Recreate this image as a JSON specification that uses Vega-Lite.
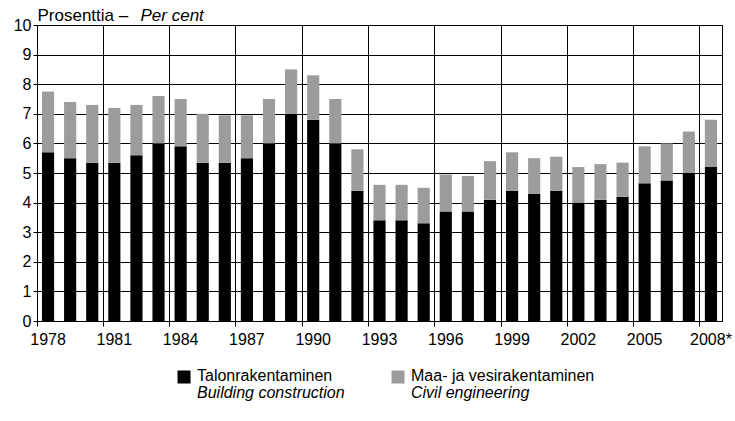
{
  "$schema": "https://vega.github.io/schema/vega-lite/v6.json",
  "padding": {"left": 12, "top": 5, "right": 0, "bottom": 5},
  "spacing": 16,
  "config": {
    "font": "Liberation Sans",
    "view": {"stroke": "#000", "strokeWidth": 1},
    "axis": {"labelColor": "#000", "titleColor": "#000", "domainColor": "#000", "tickColor": "#000", "gridColor": "#000", "gridOpacity": 1, "gridWidth": 1, "domainWidth": 1, "labelFontSize": 16}
  },
  "vconcat": [
    {
      "width": 685,
      "height": 296,
      "data": {"values": [
        {"year": "1978", "building": 5.7, "civil": 2.05},
        {"year": "1979", "building": 5.5, "civil": 1.9},
        {"year": "1980", "building": 5.35, "civil": 1.95},
        {"year": "1981", "building": 5.35, "civil": 1.85},
        {"year": "1982", "building": 5.6, "civil": 1.7},
        {"year": "1983", "building": 6.0, "civil": 1.6},
        {"year": "1984", "building": 5.9, "civil": 1.6},
        {"year": "1985", "building": 5.35, "civil": 1.65},
        {"year": "1986", "building": 5.35, "civil": 1.6},
        {"year": "1987", "building": 5.5, "civil": 1.45},
        {"year": "1988", "building": 6.0, "civil": 1.5},
        {"year": "1989", "building": 7.0, "civil": 1.5},
        {"year": "1990", "building": 6.8, "civil": 1.5},
        {"year": "1991", "building": 6.0, "civil": 1.5},
        {"year": "1992", "building": 4.4, "civil": 1.4},
        {"year": "1993", "building": 3.4, "civil": 1.2},
        {"year": "1994", "building": 3.4, "civil": 1.2},
        {"year": "1995", "building": 3.3, "civil": 1.2},
        {"year": "1996", "building": 3.7, "civil": 1.25},
        {"year": "1997", "building": 3.7, "civil": 1.2},
        {"year": "1998", "building": 4.1, "civil": 1.3},
        {"year": "1999", "building": 4.4, "civil": 1.3},
        {"year": "2000", "building": 4.3, "civil": 1.2},
        {"year": "2001", "building": 4.4, "civil": 1.15},
        {"year": "2002", "building": 4.0, "civil": 1.2},
        {"year": "2003", "building": 4.1, "civil": 1.2},
        {"year": "2004", "building": 4.2, "civil": 1.15},
        {"year": "2005", "building": 4.65, "civil": 1.25},
        {"year": "2006", "building": 4.75, "civil": 1.25},
        {"year": "2007", "building": 5.0, "civil": 1.4},
        {"year": "2008", "building": 5.2, "civil": 1.6}
      ]},
      "transform": [{"fold": ["building", "civil"], "as": ["series", "value"]}],
      "mark": {"type": "bar", "width": {"band": 0.55}},
      "encoding": {
        "x": {
          "field": "year", "type": "ordinal",
          "scale": {"paddingInner": 0, "paddingOuter": 0},
          "axis": {
            "values": ["1978", "1981", "1984", "1987", "1990", "1993", "1996", "1999", "2002", "2005", "2008"],
            "bandPosition": 0,
            "labelOffset": 0,
            "labelAngle": 0,
            "labelPadding": 5,
            "labelExpr": "datum.value == '2008' ? '2008*' : datum.value",
            "grid": true,
            "tickSize": 5,
            "title": "Per cent",
            "titleFontStyle": "italic",
            "titleFontWeight": "normal",
            "titleFontSize": 17,
            "titleAngle": 0,
            "titleAlign": "left",
            "titleBaseline": "alphabetic",
            "titleX": 103,
            "titleY": -301
          }
        },
        "y": {
          "field": "value", "type": "quantitative", "stack": "zero",
          "scale": {"domain": [0, 10], "nice": false},
          "axis": {
            "values": [0, 1, 2, 3, 4, 5, 6, 7, 8, 9, 10],
            "grid": true,
            "tickSize": 4,
            "labelPadding": 2,
            "title": "Prosenttia –",
            "titleFontWeight": "normal",
            "titleFontSize": 17,
            "titleAngle": 0,
            "titleAlign": "left",
            "titleBaseline": "alphabetic",
            "titleX": 0,
            "titleY": -5
          }
        },
        "color": {
          "field": "series", "type": "nominal",
          "scale": {"domain": ["building", "civil"], "range": ["#000000", "#9c9c9c"]},
          "legend": null
        },
        "order": {"field": "series", "type": "nominal", "sort": "ascending"}
      }
    },
    {
      "width": 685,
      "height": 40,
      "view": {"stroke": null},
      "data": {"values": [
        {"k": "building", "fi": "Talonrakentaminen", "en": "Building construction"},
        {"k": "civil", "fi": "Maa- ja vesirakentaminen", "en": "Civil engineering"}
      ]},
      "encoding": {
        "x": {"field": "k", "type": "nominal", "bandPosition": 0,
              "scale": {"type": "band", "paddingInner": 0.173, "paddingOuter": 0.687}, "axis": null}
      },
      "layer": [
        {
          "mark": {"type": "square", "size": 169, "opacity": 1, "yOffset": -7},
          "encoding": {
            "color": {"field": "k", "type": "nominal",
                      "scale": {"domain": ["building", "civil"], "range": ["#000000", "#9c9c9c"]}, "legend": null}
          }
        },
        {
          "mark": {"type": "text", "align": "left", "dx": 13, "dy": -8, "fontSize": 16, "color": "#000"},
          "encoding": {"text": {"field": "fi"}}
        },
        {
          "mark": {"type": "text", "align": "left", "dx": 13, "dy": 9, "fontSize": 16, "fontStyle": "italic", "color": "#000"},
          "encoding": {"text": {"field": "en"}}
        }
      ]
    }
  ]
}
